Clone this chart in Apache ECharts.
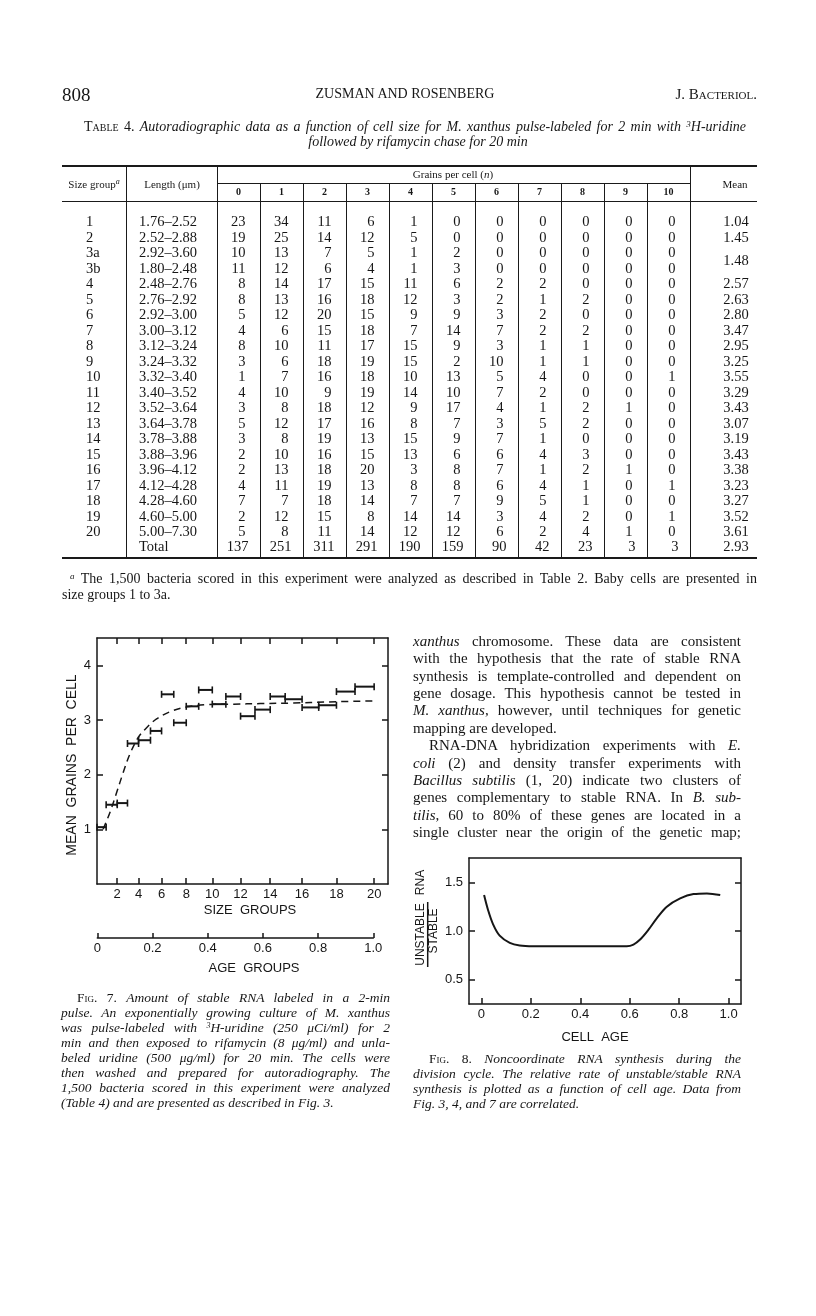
<!DOCTYPE html>
<html><head><meta charset="utf-8">
<script src="https://cdn.jsdelivr.net/npm/echarts@6/dist/echarts.min.js"></script>
<style>
html,body{margin:0;padding:0;background:#fff;}
#page{position:relative;width:816px;height:1316px;overflow:hidden;background:#fff;color:#161616;font-family:"Liberation Serif","DejaVu Serif",serif;}
.t{position:absolute;white-space:nowrap;}
.i{font-style:italic;}
.sc{font-variant:small-caps;}
.sup{position:relative;top:-0.45em;line-height:0;}
.rule{position:absolute;background:#1a1a1a;}
#chart{position:absolute;left:0;top:0;width:816px;height:1316px;}
</style></head>
<body><div id="page"><div id="chart"></div></div>
<script>
// ---------------- DATA ----------------
// Table 4
const tableGroups = ['1','2','3a','3b','4','5','6','7','8','9','10','11','12','13','14','15','16','17','18','19','20'];
const tableLengths = ['1.76–2.52','2.52–2.88','2.92–3.60','1.80–2.48','2.48–2.76','2.76–2.92','2.92–3.00','3.00–3.12','3.12–3.24','3.24–3.32','3.32–3.40','3.40–3.52','3.52–3.64','3.64–3.78','3.78–3.88','3.88–3.96','3.96–4.12','4.12–4.28','4.28–4.60','4.60–5.00','5.00–7.30'];
const grainHeaders = ['0','1','2','3','4','5','6','7','8','9','10'];
const tableCounts = [
  [23,34,11,6,1,0,0,0,0,0,0],
  [19,25,14,12,5,0,0,0,0,0,0],
  [10,13,7,5,1,2,0,0,0,0,0],
  [11,12,6,4,1,3,0,0,0,0,0],
  [8,14,17,15,11,6,2,2,0,0,0],
  [8,13,16,18,12,3,2,1,2,0,0],
  [5,12,20,15,9,9,3,2,0,0,0],
  [4,6,15,18,7,14,7,2,2,0,0],
  [8,10,11,17,15,9,3,1,1,0,0],
  [3,6,18,19,15,2,10,1,1,0,0],
  [1,7,16,18,10,13,5,4,0,0,1],
  [4,10,9,19,14,10,7,2,0,0,0],
  [3,8,18,12,9,17,4,1,2,1,0],
  [5,12,17,16,8,7,3,5,2,0,0],
  [3,8,19,13,15,9,7,1,0,0,0],
  [2,10,16,15,13,6,6,4,3,0,0],
  [2,13,18,20,3,8,7,1,2,1,0],
  [4,11,19,13,8,8,6,4,1,0,1],
  [7,7,18,14,7,7,9,5,1,0,0],
  [2,12,15,8,14,14,3,4,2,0,1],
  [5,8,11,14,12,12,6,2,4,1,0]
];
const tableMeans = ['1.04','1.45','1.48','2.57','2.63','2.80','3.47','2.95','3.25','3.55','3.29','3.43','3.07','3.19','3.43','3.38','3.23','3.27','3.52','3.61'];
const tableTotals = [137,251,311,291,190,159,90,42,23,3,3];
const tableTotalMean = '2.93';

// Fig. 7
const figSizeGroups = ['1','2','3','4','5','6','7','8','9','10','11','12','13','14','15','16','17','18','19','20'];
const meanGrains = [1.04,1.45,1.48,2.57,2.63,2.80,3.47,2.95,3.25,3.55,3.29,3.43,3.07,3.19,3.43,3.38,3.23,3.27,3.52,3.61];
const groupAgeBounds = [0,0.033,0.073,0.110,0.150,0.193,0.233,0.277,0.322,0.367,0.416,0.465,0.518,0.570,0.625,0.679,0.740,0.800,0.864,0.931,1.0];
const sizeTickLabels = ['2','4','6','8','10','12','14','16','18','20'];
const fig7CurveAge = [0.022,0.046,0.070,0.094,0.118,0.149,0.179,0.215,0.263,0.324,0.396,0.493,0.589,0.710,0.831,1.0];
const fig7CurveVal = [1.00,1.30,1.66,2.03,2.37,2.68,2.86,3.02,3.15,3.24,3.28,3.29,3.30,3.31,3.33,3.35];
const fig7YTicks = [1,2,3,4];
const ageTicks = [0,0.2,0.4,0.6,0.8,1.0];

// Fig. 8
const fig8Age = [0.011,0.027,0.047,0.074,0.115,0.155,0.209,0.35,0.50,0.588,0.615,0.642,0.676,0.710,0.750,0.804,0.858,0.912,0.966];
const fig8Ratio = [1.369,1.216,1.071,0.952,0.878,0.851,0.844,0.844,0.844,0.844,0.861,0.912,1.013,1.132,1.250,1.335,1.379,1.386,1.369];
const fig8YTicks = [0.5,1.0,1.5];
const fig8XTicks = [0,0.2,0.4,0.6,0.8,1.0];

// ---------------- TEXT / TABLE (HTML) ----------------
const page = document.getElementById('page');
const INK = '#161616';
const sup = (t, fs) => '<span class="sup" style="font-size:' + fs + 'px">' + t + '</span>';
function put(html, x, y, size, opts) {
  opts = opts || {};
  const d = document.createElement('div');
  d.className = 't';
  d.innerHTML = html;
  d.style.fontSize = size + 'px';
  d.style.lineHeight = size + 'px';
  d.style.height = size + 'px';
  d.style.top = (y - size * 0.55) + 'px';
  d.style.left = '0px';
  if (opts.weight) d.style.fontWeight = opts.weight;
  page.appendChild(d);
  const w = d.getBoundingClientRect().width;
  if (opts.justify) {
    const spaces = (d.textContent.match(/ /g) || []).length;
    if (spaces) d.style.wordSpacing = ((opts.justify - w) / spaces) + 'px';
    d.style.left = x + 'px';
  } else if (opts.align === 'center') {
    d.style.left = (x - w / 2) + 'px';
  } else if (opts.align === 'right') {
    d.style.left = (x - w) + 'px';
  } else {
    d.style.left = x + 'px';
  }
  return d;
}
function rule(x, y, w, h) {
  const d = document.createElement('div');
  d.className = 'rule';
  d.style.left = x + 'px'; d.style.top = y + 'px';
  d.style.width = w + 'px'; d.style.height = h + 'px';
  page.appendChild(d);
}

// running head
put('808', 62, 95, 19);
put('ZUSMAN AND ROSENBERG', 405, 95, 14, {align: 'center'});
put('J. <span class="sc">Bacteriol.</span>', 757, 95, 15, {align: 'right'});

// table title
put('<span class="sc">Table</span> 4. <span class="i">Autoradiographic data as a function of cell size for M. xanthus pulse-labeled for 2 min with ' + sup('3', 9) + 'H-uridine</span>', 84, 128, 14, {justify: 662});
put('<span class="i">followed by rifamycin chase for 20 min</span>', 418, 143, 14, {align: 'center'});

// table frame
const TL = 62, TR = 757, TTop = 165, TSub = 183, THead = 201, TBot = 557;
const gW = 43;
const gStart = 217;
const meanDiv = gStart + gW * 11;
rule(TL, TTop, TR - TL, 2);
rule(gStart, TSub, meanDiv - gStart, 1);
rule(TL, THead, TR - TL, 1);
rule(TL, TBot, TR - TL, 2);
rule(126, TTop, 1, TBot - TTop);
rule(217, TTop, 1, TBot - TTop);
rule(meanDiv, TTop, 1, TBot - TTop);
for (let k = 1; k < 11; k++) rule(gStart + gW * k, TSub, 1, TBot - TSub);

put('Size group' + sup('<i>a</i>', 8), 94, 185, 11, {align: 'center'});
put('Length (μm)', 172, 185, 11, {align: 'center'});
put('Grains per cell (<span class="i">n</span>)', 453, 175, 11, {align: 'center'});
put('Mean', 735, 185, 11, {align: 'center'});
grainHeaders.forEach((h, k) => put(h, gStart + gW * k + gW / 2, 192.5, 10, {align: 'center', weight: 'bold'}));

const rowY0 = 222, rowH = 15.5;
tableGroups.forEach((g, r) => {
  const y = rowY0 + r * rowH;
  put(g, 86, y, 14.5);
  put(tableLengths[r], 139, y, 14.5);
  tableCounts[r].forEach((v, k) => put(String(v), gStart + gW * k + gW / 2 + 7, y, 14.5, {align: 'right'}));
});
// means (3a and 3b share one value)
const meanRows = [0, 1, 2.5, 4, 5, 6, 7, 8, 9, 10, 11, 12, 13, 14, 15, 16, 17, 18, 19, 20];
tableMeans.forEach((m, i) => put(m, 736, rowY0 + meanRows[i] * rowH, 14.5, {align: 'center'}));
const totY = rowY0 + 21 * rowH - 1;
put('Total', 139, totY, 14.5);
tableTotals.forEach((v, k) => put(String(v), gStart + gW * k + gW / 2 + 10, totY, 14.5, {align: 'right'}));
put(tableTotalMean, 736, totY, 14.5, {align: 'center'});

// footnote
put(sup('<i>a</i>', 9) + ' The 1,500 bacteria scored in this experiment were analyzed as described in Table 2. Baby cells are presented in', 70, 580, 14, {justify: 687});
put('size groups 1 to 3a.', 62, 596, 14);

// Fig 7 caption
const cap7 = [
  ['<span class="sc">Fig.</span> 7. <span class="i">Amount of stable RNA labeled in a 2-min</span>', 77, 313],
  ['<span class="i">pulse. An exponentially growing culture of M. xanthus</span>', 61, 329],
  ['<span class="i">was pulse-labeled with ' + sup('3', 8) + 'H-uridine (250 μCi/ml) for 2</span>', 61, 329],
  ['<span class="i">min and then exposed to rifamycin (8 μg/ml) and unla-</span>', 61, 329],
  ['<span class="i">beled uridine (500 μg/ml) for 20 min. The cells were</span>', 61, 329],
  ['<span class="i">then washed and prepared for autoradiography. The</span>', 61, 329],
  ['<span class="i">1,500 bacteria scored in this experiment were analyzed</span>', 61, 329],
  ['<span class="i">(Table 4) and are presented as described in Fig. 3.</span>', 61, 0]
];
cap7.forEach((c, i) => put(c[0], c[1], 998 + i * 15.1, 13.5, c[2] ? {justify: c[2]} : {}));

// right column body text
const body = [
  ['<span class="i">xanthus</span> chromosome. These data are consistent', 413, 328],
  ['with the hypothesis that the rate of stable RNA', 413, 328],
  ['synthesis is template-controlled and dependent on', 413, 328],
  ['gene dosage. This hypothesis cannot be tested in', 413, 328],
  ['<span class="i">M. xanthus</span>, however, until techniques for genetic', 413, 328],
  ['mapping are developed.', 413, 0],
  ['RNA-DNA hybridization experiments with <span class="i">E.</span>', 429, 312],
  ['<span class="i">coli</span> (2) and density transfer experiments with', 413, 328],
  ['<span class="i">Bacillus subtilis</span> (1, 20) indicate two clusters of', 413, 328],
  ['genes complementary to stable RNA. In <span class="i">B. sub-</span>', 413, 328],
  ['<span class="i">tilis</span>, 60 to 80% of these genes are located in a', 413, 328],
  ['single cluster near the origin of the genetic map;', 413, 328]
];
body.forEach((c, i) => put(c[0], c[1], 642 + i * 17.4, 15, c[2] ? {justify: c[2]} : {}));

// Fig 8 caption
const cap8 = [
  ['<span class="sc">Fig.</span> 8. <span class="i">Noncoordinate RNA synthesis during the</span>', 429, 312],
  ['<span class="i">division cycle. The relative rate of unstable/stable RNA</span>', 413, 328],
  ['<span class="i">synthesis is plotted as a function of cell age. Data from</span>', 413, 328],
  ['<span class="i">Fig. 3, 4, and 7 are correlated.</span>', 413, 0]
];
cap8.forEach((c, i) => put(c[0], c[1], 1059 + i * 15.1, 13.5, c[2] ? {justify: c[2]} : {}));

// ---------------- CHARTS (ECharts) ----------------
const chart = echarts.init(document.getElementById('chart'), null, {renderer: 'canvas'});
const SANS = '"Liberation Sans", Arial, sans-serif';
const lbl = {color: INK, fontFamily: SANS, fontSize: 13};
const lineS = {color: INK, width: 1.5};

const sizeTickAges = sizeTickLabels.map(l => groupAgeBounds[parseInt(l, 10)]);
const errData = meanGrains.map((m, i) => [groupAgeBounds[i], groupAgeBounds[i + 1], m, figSizeGroups[i]]);
const fmt1 = v => (Math.abs(v) < 1e-9 ? '0' : v.toFixed(1));

function errItem(params, api) {
  const lo = api.value(0), hi = api.value(1), m = api.value(2);
  const a = api.coord([lo, m]), b = api.coord([hi, m]);
  const h = 3.5;
  return {type: 'group', children: [
    {type: 'line', shape: {x1: a[0], y1: a[1], x2: b[0], y2: b[1]}, style: {stroke: INK, lineWidth: 2}},
    {type: 'line', shape: {x1: a[0], y1: a[1] - h, x2: a[0], y2: a[1] + h}, style: {stroke: INK, lineWidth: 1.6}},
    {type: 'line', shape: {x1: b[0], y1: b[1] - h, x2: b[0], y2: b[1] + h}, style: {stroke: INK, lineWidth: 1.6}}
  ]};
}

function vtext(txt, x, y, size, rot) {
  return {type: 'text', x: x, y: y, rotation: rot || 0,
    style: {text: txt, fill: INK, font: size + 'px ' + SANS, textAlign: 'center', textVerticalAlign: 'middle'}};
}

const option = {
  animation: false,
  grid: [
    {left: 97, top: 638, width: 291, height: 246},
    {left: 97.3, top: 900, width: 276, height: 38},
    {left: 469, top: 858, width: 272, height: 146}
  ],
  xAxis: [
    {gridIndex: 0, type: 'value', min: 0, max: 1.05, position: 'bottom',
      axisLine: {show: true, onZero: false, lineStyle: lineS},
      axisTick: {show: true, inside: true, length: 6, customValues: sizeTickAges, lineStyle: lineS},
      axisLabel: {show: true, customValues: sizeTickAges, margin: 4, ...lbl,
        formatter: v => { const i = sizeTickAges.findIndex(a => Math.abs(a - v) < 1e-6); return i >= 0 ? sizeTickLabels[i] : ''; }},
      splitLine: {show: false}},
    {gridIndex: 0, type: 'value', min: 0, max: 1.05, position: 'top',
      axisLine: {show: true, onZero: false, lineStyle: lineS},
      axisTick: {show: true, inside: true, length: 6, customValues: sizeTickAges, lineStyle: lineS},
      axisLabel: {show: false}, splitLine: {show: false}},
    {gridIndex: 1, type: 'value', min: 0, max: 1, position: 'bottom',
      axisLine: {show: true, onZero: false, lineStyle: lineS},
      axisTick: {show: true, inside: true, length: 5, customValues: ageTicks, lineStyle: lineS},
      axisLabel: {show: true, customValues: ageTicks, margin: 4, ...lbl, formatter: fmt1},
      splitLine: {show: false}},
    {gridIndex: 2, type: 'value', min: -0.05, max: 1.05, position: 'bottom',
      axisLine: {show: true, onZero: false, lineStyle: lineS},
      axisTick: {show: true, inside: true, length: 6, customValues: fig8XTicks, lineStyle: lineS},
      axisLabel: {show: true, customValues: fig8XTicks, margin: 4, ...lbl, formatter: fmt1},
      splitLine: {show: false}},
    {gridIndex: 2, type: 'value', min: -0.05, max: 1.05, position: 'top',
      axisLine: {show: true, onZero: false, lineStyle: lineS},
      axisTick: {show: false}, axisLabel: {show: false}, splitLine: {show: false}}
  ],
  yAxis: [
    {gridIndex: 0, type: 'value', min: 0, max: 4.5, position: 'left',
      axisLine: {show: true, onZero: false, lineStyle: lineS},
      axisTick: {show: true, inside: true, length: 6, customValues: fig7YTicks, lineStyle: lineS},
      axisLabel: {show: true, customValues: fig7YTicks, margin: 6, ...lbl},
      splitLine: {show: false}},
    {gridIndex: 0, type: 'value', min: 0, max: 4.5, position: 'right',
      axisLine: {show: true, onZero: false, lineStyle: lineS},
      axisTick: {show: true, inside: true, length: 6, customValues: fig7YTicks, lineStyle: lineS},
      axisLabel: {show: false}, splitLine: {show: false}},
    {gridIndex: 1, type: 'value', min: 0, max: 1, show: false},
    {gridIndex: 2, type: 'value', min: 0.25, max: 1.75, position: 'left',
      axisLine: {show: true, onZero: false, lineStyle: lineS},
      axisTick: {show: true, inside: true, length: 6, customValues: fig8YTicks, lineStyle: lineS},
      axisLabel: {show: true, customValues: fig8YTicks, margin: 6, ...lbl, formatter: fmt1},
      splitLine: {show: false}},
    {gridIndex: 2, type: 'value', min: 0.25, max: 1.75, position: 'right',
      axisLine: {show: true, onZero: false, lineStyle: lineS},
      axisTick: {show: true, inside: true, length: 6, customValues: fig8YTicks, lineStyle: lineS},
      axisLabel: {show: false}, splitLine: {show: false}}
  ],
  series: [
    {type: 'custom', xAxisIndex: 0, yAxisIndex: 0, renderItem: errItem, data: errData,
      encode: {x: [0, 1], y: 2}, silent: true},
    {type: 'line', xAxisIndex: 0, yAxisIndex: 0, symbol: 'none', smooth: 0.35, silent: true,
      data: fig7CurveAge.map((a, i) => [a, fig7CurveVal[i]]),
      lineStyle: {color: INK, width: 1.5, type: [7, 5]}},
    {type: 'line', xAxisIndex: 2, yAxisIndex: 2, data: [], symbol: 'none'},
    {type: 'line', xAxisIndex: 3, yAxisIndex: 3, symbol: 'none', smooth: 0.35, silent: true,
      data: fig8Age.map((a, i) => [a, fig8Ratio[i]]),
      lineStyle: {color: INK, width: 2}}
  ],
  graphic: [
    vtext('MEAN  GRAINS  PER  CELL', 72.5, 765, 14, Math.PI / 2),
    vtext('SIZE  GROUPS', 250, 910, 13),
    vtext('AGE  GROUPS', 254, 968, 13),
    vtext('CELL  AGE', 595, 1037, 13),
    vtext('UNSTABLE', 421, 934.5, 12, Math.PI / 2),
    vtext('STABLE', 434, 931, 12, Math.PI / 2),
    vtext('RNA', 421, 882.5, 12, Math.PI / 2),
    {type: 'line', shape: {x1: 427.7, y1: 902, x2: 427.7, y2: 967}, style: {stroke: INK, lineWidth: 1.5}}
  ]
};
chart.setOption(option);
</script></body></html>
